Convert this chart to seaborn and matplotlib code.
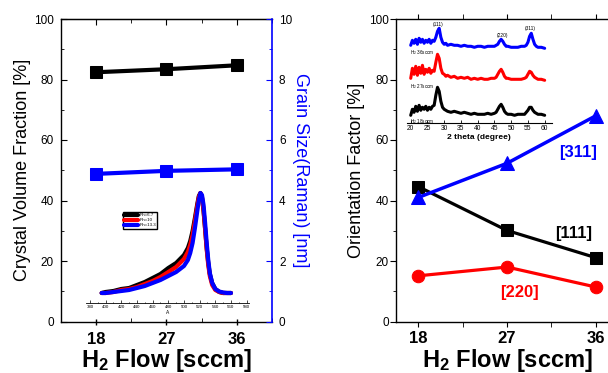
import matplotlib
matplotlib.use('Agg')
import matplotlib.pyplot as plt
import seaborn as sns
from matplotlib.ticker import MultipleLocator

# =========================
# Data
# =========================
flow = [18, 27, 36]

# left panel
crystal_fraction = [82.4, 83.4, 84.7]   # %
grain_size = [4.88, 4.98, 5.03]         # nm

# right panel, orientation factor [%]
of_111 = [44.6, 30.1, 21.1]
of_220 = [15.1, 18.0, 11.4]
of_311 = [41.0, 52.3, 68.0]

# Raman inset (normalised intensity)
raman_shift = [395, 400, 410, 420, 430, 440, 450, 460, 470, 480, 490, 495, 500,
               505, 508, 511, 514, 517, 519, 521, 523, 525, 527, 529, 531, 533,
               536, 540, 545, 550, 555, 560]
raman_rh67 = [0.0, 0.01, 0.02, 0.04, 0.05, 0.08, 0.11, 0.15, 0.19, 0.25, 0.30, 0.34, 0.38,
              0.45, 0.52, 0.62, 0.75, 0.89, 0.97, 1.0, 0.95, 0.82, 0.64, 0.45, 0.30, 0.19,
              0.10, 0.04, 0.01, 0.0, 0.0, 0.0]
raman_rh10 = [0.0, 0.0, 0.01, 0.03, 0.04, 0.06, 0.09, 0.12, 0.16, 0.21, 0.26, 0.30, 0.34,
              0.41, 0.48, 0.58, 0.72, 0.87, 0.96, 1.0, 0.96, 0.83, 0.64, 0.44, 0.28, 0.17,
              0.08, 0.03, 0.01, 0.0, 0.0, 0.0]
raman_rh133 = [0.0, 0.0, 0.01, 0.02, 0.03, 0.05, 0.07, 0.10, 0.13, 0.17, 0.21, 0.24, 0.27,
               0.33, 0.40, 0.50, 0.65, 0.82, 0.93, 1.0, 0.98, 0.88, 0.70, 0.50, 0.33, 0.20,
               0.10, 0.04, 0.015, 0.005, 0.0, 0.0]
raman_labels = ['Rh=6.7', 'Rh=10', 'Rh=13.3']

# XRD inset (a.u., above each pattern's own baseline)
two_theta = [20, 20.5, 21, 21.5, 22, 22.5, 23, 23.5, 24, 24.5, 25, 25.5, 26, 26.5, 27,
             27.5, 28, 28.5, 29, 29.5, 30, 30.5, 31,
             32, 33, 34, 35, 36, 37, 38, 39, 40, 41, 42, 43, 44, 45,
             45.5, 46, 46.5, 47, 47.5, 48, 48.5,
             49, 50, 51, 52, 53, 54,
             54.5, 55, 55.5, 56, 56.5, 57, 57.5,
             58, 59, 60]
xrd_18 = [2, 8, 5, 11, 6, 12, 7, 10, 8, 11, 7, 10, 8, 11, 12, 22, 30, 26, 16, 10, 8, 7, 6,
          5, 6, 5, 4, 5, 4, 3, 4, 3, 3, 3, 4, 3, 4,
          5, 8, 11, 13, 10, 6, 4,
          3, 3, 2, 3, 3, 3,
          5, 7, 10, 10, 7, 5, 4,
          3, 3, 2]
xrd_27 = [4, 14, 8, 16, 7, 15, 9, 17, 8, 13, 10, 14, 9, 12, 11, 20, 28, 24, 14, 9, 8, 6, 7,
          5, 6, 4, 5, 4, 5, 3, 4, 3, 4, 3, 3, 4, 4,
          5, 8, 11, 13, 10, 6, 4,
          4, 3, 3, 3, 3, 4,
          5, 8, 11, 10, 7, 5, 4,
          3, 3, 2]
xrd_36 = [3, 8, 5, 9, 4, 10, 6, 9, 5, 8, 6, 9, 5, 8, 7, 11, 17, 20, 11, 6, 4, 5, 3,
          4, 3, 3, 2, 3, 2, 2, 1, 2, 2, 1, 2, 2, 2,
          3, 4, 7, 9, 7, 4, 2,
          2, 1, 1, 1, 2, 2,
          3, 6, 12, 15, 9, 4, 2,
          1, 1, 0]
xrd_offsets = [6, 41, 75]
xrd_names = [r'H$_2$ 18sccm', r'H$_2$ 27sccm', r'H$_2$ 36sccm']
peak_names = ['(111)', '(220)', '(311)']
peak_pos = [28.3, 47.4, 55.8]
peak_label_y = [99, 88, 95]

BLUE = '#0000ff'
RED = '#ff0000'

# =========================
# Style
# =========================
sns.set_style('ticks')
plt.rcParams['font.family'] = ['Liberation Sans', 'DejaVu Sans']
plt.rcParams['mathtext.fontset'] = 'custom'
plt.rcParams['mathtext.rm'] = 'Liberation Sans'
plt.rcParams['mathtext.bf'] = 'Liberation Sans:bold'
plt.rcParams['mathtext.default'] = 'regular'
for key in ['text.color', 'axes.labelcolor', 'xtick.color', 'ytick.color', 'axes.edgecolor']:
    plt.rcParams[key] = 'black'

fig = plt.figure(figsize=(6.08, 3.73), dpi=100)
W, H = 608, 373

# =========================
# Left panel
# =========================
ax1 = fig.add_axes([61 / W, 51.5 / H, 211 / W, 302.5 / H])
ax1b = ax1.twinx()

sns.lineplot(x=flow, y=crystal_fraction, ax=ax1, color='black', lw=3,
             marker='s', markersize=8, markeredgecolor='black')
sns.lineplot(x=flow, y=grain_size, ax=ax1b, color=BLUE, lw=3,
             marker='s', markersize=8, markeredgecolor=BLUE)

ax1.set_xlim(13.5, 40.5)
ax1.set_ylim(0, 100)
ax1b.set_ylim(0, 10)
ax1.set_xticks(flow)
ax1.xaxis.set_minor_locator(MultipleLocator(4.5))
ax1.yaxis.set_major_locator(MultipleLocator(20))
ax1.yaxis.set_minor_locator(MultipleLocator(10))
ax1b.yaxis.set_major_locator(MultipleLocator(2))
ax1b.yaxis.set_minor_locator(MultipleLocator(1))

ax1.tick_params(axis='x', which='major', direction='inout', length=5, width=1,
                labelsize=12, pad=5, top=False)
ax1.tick_params(axis='x', which='minor', direction='in', length=3, top=False)
for lab in ax1.get_xticklabels():
    lab.set_fontweight('bold')
ax1.tick_params(axis='y', which='major', direction='in', length=4, labelsize=8.5, pad=5)
ax1.tick_params(axis='y', which='minor', direction='in', length=2.5)
ax1b.tick_params(axis='y', which='major', direction='in', length=4, labelsize=8.5,
                 pad=5, color=BLUE)
ax1b.tick_params(axis='y', which='minor', direction='in', length=2.5, color=BLUE)

top1 = ax1.secondary_xaxis('top')
top1.set_xticks(flow)
top1.xaxis.set_minor_locator(MultipleLocator(4.5))
top1.tick_params(which='major', direction='in', length=4, labeltop=False)
top1.tick_params(which='minor', direction='in', length=3)

for side in ['left', 'bottom', 'top']:
    ax1.spines[side].set_linewidth(1)
ax1.spines['right'].set_visible(False)
for side in ['left', 'bottom', 'top']:
    ax1b.spines[side].set_visible(False)
ax1b.spines['right'].set_color(BLUE)
ax1b.spines['right'].set_linewidth(1.2)

ax1.set_xlabel(r'H$_\mathbf{2}$ Flow [sccm]', fontsize=17, fontweight='bold', labelpad=0)
ax1.set_ylabel('Crystal Volume Fraction [%]', fontsize=13, labelpad=2)
ax1b.set_ylabel('Grain Size(Raman) [nm]', fontsize=13, color=BLUE, rotation=270,
                va='bottom', labelpad=0)

# Raman inset
axr = fig.add_axes([86 / W, 70 / H, 163 / W, 118 / H])
axr.patch.set_visible(False)
for vals, col, lab in zip([raman_rh67, raman_rh10, raman_rh133], ['black', RED, BLUE], raman_labels):
    sns.lineplot(x=raman_shift, y=vals, ax=axr, color=col, lw=3, label=lab)
axr.set_xlim(375, 583)
axr.set_ylim(-0.10, 1.08)
axr.set_xticks(range(380, 581, 20))
axr.xaxis.set_minor_locator(MultipleLocator(10))
axr.set_yticks([])
for side in ['left', 'right', 'top']:
    axr.spines[side].set_visible(False)
axr.spines['bottom'].set_linewidth(0.6)
axr.tick_params(axis='x', which='major', direction='in', length=2, width=0.5,
                labelsize=3.2, pad=1.5)
axr.tick_params(axis='x', which='minor', direction='in', length=1, width=0.5)
axr.set_xlabel('A', fontsize=3.5, labelpad=1)
axr.set_ylabel('')
axr.legend(loc='upper left', bbox_to_anchor=(0.227, 0.771), fontsize=3.2,
           handlelength=3, handletextpad=0.4, borderpad=0.3, labelspacing=0.2,
           frameon=True, fancybox=False, edgecolor='black', framealpha=1,
           borderaxespad=0)

# =========================
# Right panel
# =========================
ax2 = fig.add_axes([396 / W, 51.5 / H, 222 / W, 302.5 / H])
sns.lineplot(x=flow, y=of_111, ax=ax2, color='black', lw=2.3,
             marker='s', markersize=8.5, markeredgecolor='black')
sns.lineplot(x=flow, y=of_220, ax=ax2, color=RED, lw=2.3,
             marker='o', markersize=9, markeredgecolor=RED)
sns.lineplot(x=flow, y=of_311, ax=ax2, color=BLUE, lw=2.5,
             marker='^', markersize=10, markeredgecolor=BLUE)
ax2.set_xlim(15.75, 38.25)
ax2.set_ylim(0, 100)
ax2.set_xticks(flow)
ax2.xaxis.set_minor_locator(MultipleLocator(4.5))
ax2.yaxis.set_major_locator(MultipleLocator(20))
ax2.yaxis.set_minor_locator(MultipleLocator(10))
ax2.tick_params(axis='x', which='both', direction='out', length=3.5, top=True,
                labelsize=12, pad=3)
for lab in ax2.get_xticklabels():
    lab.set_fontweight('bold')
ax2.tick_params(axis='y', which='major', direction='out', length=4, labelsize=8.5, pad=1)
ax2.tick_params(axis='y', which='minor', direction='out', length=2.5)
for side in ax2.spines:
    ax2.spines[side].set_linewidth(1)
ax2.set_xlabel(r'H$_\mathbf{2}$ Flow [sccm]', fontsize=17, fontweight='bold', labelpad=1)
ax2.set_ylabel('Orientation Factor [%]', fontsize=13, labelpad=3)

ax2.text(34.2, 56, '[311]', color=BLUE, fontsize=12, fontweight='bold', ha='center', va='center')
ax2.text(33.8, 29, '[111]', color='black', fontsize=12, fontweight='bold', ha='center', va='center')
ax2.text(28.3, 9.7, '[220]', color=RED, fontsize=12, fontweight='bold', ha='center', va='center')

# XRD inset
axx = fig.add_axes([406.7 / W, 249.7 / H, 145 / W, 104.3 / H])
axx.patch.set_visible(False)
for vals, off, col in zip([xrd_18, xrd_27, xrd_36], xrd_offsets, ['black', RED, BLUE]):
    sns.lineplot(x=two_theta, y=[v + off for v in vals], ax=axx, color=col, lw=2.2)
for name, off in zip(xrd_names, xrd_offsets):
    axx.text(19.8, off - 4.5, name, fontsize=3.3, ha='left', va='center')
for name, px, py in zip(peak_names, peak_pos, peak_label_y):
    axx.text(px, py, name, fontsize=3.5, ha='center', va='center')
axx.set_xlim(18.8, 62.1)
axx.set_ylim(0, 104.3)
axx.set_xticks(range(20, 61, 5))
axx.set_yticks([])
for side in ['left', 'right', 'top']:
    axx.spines[side].set_visible(False)
axx.spines['bottom'].set_linewidth(0.8)
axx.tick_params(axis='x', direction='in', length=2, width=0.6, labelsize=4.8, pad=1.5)
axx.set_xlabel('2 theta (degree)', fontsize=6, fontweight='bold', labelpad=1.5)
axx.set_ylabel('')

fig.savefig('out.png', dpi=100)
